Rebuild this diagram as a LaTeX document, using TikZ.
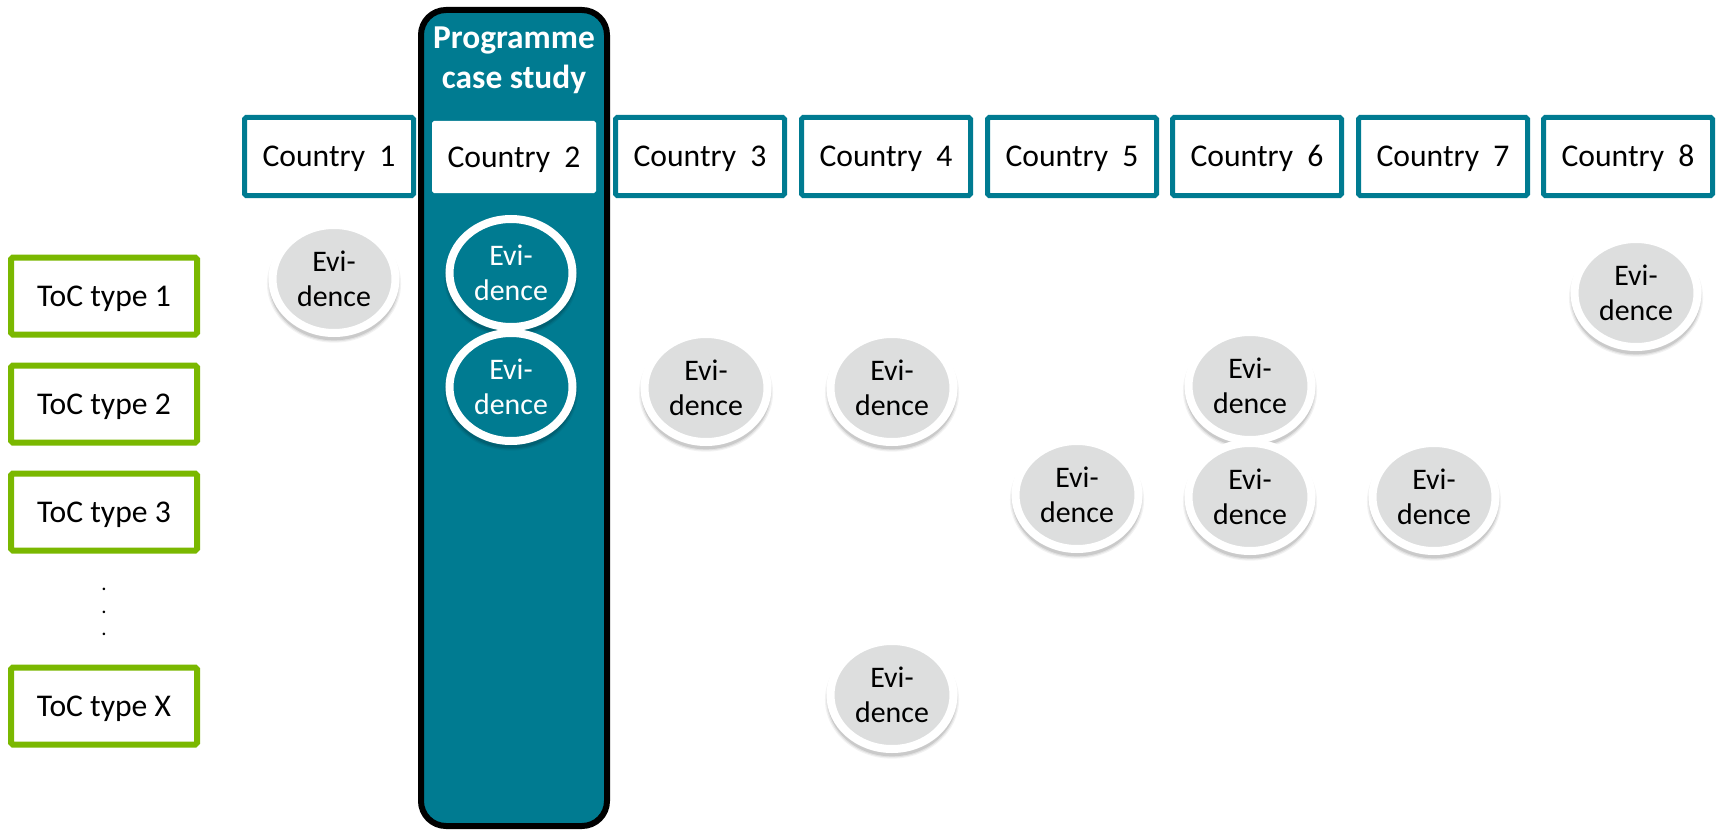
\documentclass[tikz,border=0pt]{standalone}
\usepackage{fontspec}
\setmainfont{Carlito}
\usetikzlibrary{positioning,shapes,shadows}
\definecolor{progteal}{HTML}{007B91}
\definecolor{tocgreen}{HTML}{7AB800}
\definecolor{evgray}{HTML}{DDDEDE}

\begin{document}
\begin{tikzpicture}[
  cntnode/.style={rectangle,draw=progteal,line width=0.1cm,fill=white,rounded corners=1pt,minimum width=3.38cm,minimum height=1.56cm,inner sep=0pt,text height=15.2pt,text depth=3.4pt,font=\fontsize{18pt}{21pt}\selectfont},
  tocnode/.style={rectangle,draw=tocgreen,line width=0.12cm,fill=white,rounded corners=1pt,minimum width=3.72cm,minimum height=1.54cm,inner sep=0pt,text height=15.2pt,text depth=3.4pt,font=\fontsize{18pt}{21pt}\selectfont},
  evnode/.style={ellipse,draw=white,line width=0.16cm,fill=#1,minimum width=2.46cm,minimum height=2.16cm,inner sep=0pt,align=center,font=\fontsize{17pt}{20pt}\selectfont,
    general shadow={shadow scale=1.09,shadow yshift=-2.5pt,opacity=0.05,fill=black},
    general shadow={shadow scale=1.07,shadow yshift=-2.5pt,opacity=0.07,fill=black},
    general shadow={shadow scale=1.05,shadow yshift=-2.5pt,opacity=0.1,fill=black}},
  evnode/.default=evgray,
  progbox/.style={rectangle,draw=black,line width=0.12cm,fill=progteal,rounded corners=0.5cm,minimum width=3.72cm,minimum height=16.32cm},
]
\useasboundingbox (0,0) rectangle (34.34,-16.6);

% === Programme case study column ===
\node[progbox] (prog) at (10.28,-8.36) {};
\node[text=white,align=center,font=\fontsize{19pt}{22.8pt}\selectfont\bfseries] (progtitle) at (10.28,-1.21) {Programme\\case study};

% === Countries ===
\node[cntnode] (c1) at (6.58,-3.13) {Country~~1};
\node[cntnode,draw=none,minimum width=3.28cm,minimum height=1.44cm] (c2) at (10.28,-3.14) {Country~~2};
\node[cntnode] (c3) at (14.0,-3.13)  {Country~~3};
\node[cntnode] (c4) at (17.72,-3.13) {Country~~4};
\node[cntnode] (c5) at (21.44,-3.13) {Country~~5};
\node[cntnode] (c6) at (25.14,-3.13) {Country~~6};
\node[cntnode] (c7) at (28.86,-3.13) {Country~~7};
\node[cntnode] (c8) at (32.56,-3.13) {Country~~8};

% === ToC types ===
\node[tocnode] (t1) at (2.08,-5.92)  {ToC type 1};
\node[tocnode] (t2) at (2.08,-8.08)  {ToC type 2};
\node[tocnode] (t3) at (2.08,-10.24) {ToC type 3};
\node[align=center,inner sep=0pt,font=\fontsize{12pt}{12.7pt}\selectfont] (tdots) at (2.08,-12.24) {.\\.\\.};
\node[tocnode] (tx) at (2.08,-14.12) {ToC type X};

% === Evidence ===
\node[evnode] (e1a) at (6.68,-5.58) {Evi-\\dence};
\node[evnode=progteal,text=white] (e2a) at (10.22,-5.46) {Evi-\\dence};
\node[evnode=progteal,text=white] (e2b) at (10.22,-7.74) {Evi-\\dence};
\node[evnode] (e3b) at (14.12,-7.76) {Evi-\\dence};
\node[evnode] (e4b) at (17.84,-7.76) {Evi-\\dence};
\node[evnode] (e6b) at (25.0,-7.72)  {Evi-\\dence};
\node[evnode] (e5c) at (21.54,-9.9)  {Evi-\\dence};
\node[evnode] (e6c) at (25.0,-9.94)  {Evi-\\dence};
\node[evnode] (e7c) at (28.68,-9.94) {Evi-\\dence};
\node[evnode] (e8a) at (32.72,-5.86) {Evi-\\dence};
\node[evnode] (e4x) at (17.84,-13.9) {Evi-\\dence};

\end{tikzpicture}
\end{document}
